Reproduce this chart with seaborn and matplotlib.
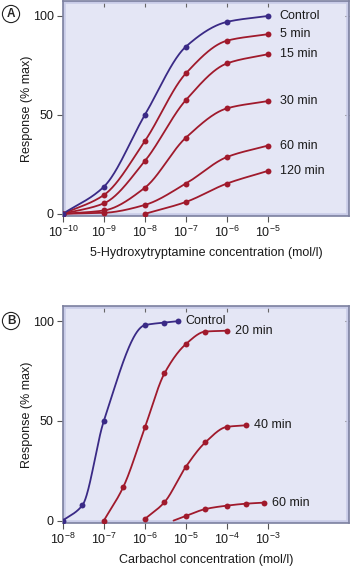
import numpy as np
import pandas as pd
import matplotlib
matplotlib.use("Agg")
import matplotlib.pyplot as plt
import seaborn as sns
from matplotlib.patches import Rectangle

# Panel A: 5-hydroxytryptamine, response (% max) after exposure time
conc_a = [1e-10, 1e-9, 1e-8, 1e-7, 1e-6, 1e-5]
labels_a = ["Control", "5 min", "15 min", "30 min", "60 min", "120 min"]
resp_a_control = [0, 13.7, 50, 84.5, 97, 100]
resp_a_5 = [0, 9.5, 36.8, 71, 87.5, 90.8]
resp_a_15 = [0, 5.3, 26.7, 57.5, 76, 80.7]
resp_a_30 = [0, 1.7, 13.2, 38.5, 53.3, 57]
resp_a_60 = [0, 0.5, 4.5, 15.3, 28.7, 34.5]
resp_a_120 = [np.nan, np.nan, 0, 6, 15.3, 21.7]

# Panel B: carbachol
labels_b = ["Control", "20 min", "40 min", "60 min"]
conc_b_control = [1e-8, 3e-8, 1e-7, 1e-6, 3e-6, 6.5e-6]
resp_b_control = [0, 7.7, 50, 98, 99.3, 100]
conc_b_20 = [1e-7, 3e-7, 1e-6, 3e-6, 1e-5, 3e-5, 1e-4]
resp_b_20 = [0, 17, 46.7, 73.8, 88.5, 94.8, 95.2]
conc_b_40 = [1e-6, 3e-6, 1e-5, 3e-5, 1e-4, 3e-4]
resp_b_40 = [0.8, 9.2, 27, 39.3, 47, 47.8]
conc_b_60 = [5e-6, 1e-5, 3e-5, 1e-4, 3e-4, 8e-4]
resp_b_60 = [0, 2.3, 5.8, 7.5, 8.5, 9]
marked_b_60 = [False, True, True, True, True, True]

BLUE = "#3a2a86"
RED = "#a01a2c"
FACE = "#e4e6f5"

sns.set_style("ticks")
plt.rcParams["font.family"] = ["Liberation Sans", "DejaVu Sans"]
plt.rcParams["mathtext.fontset"] = "custom"
plt.rcParams["mathtext.rm"] = "Liberation Sans"
plt.rcParams["mathtext.it"] = "Liberation Sans:italic"
plt.rcParams["mathtext.bf"] = "Liberation Sans:bold"
FS = 9


def smooth_curve(x, y, n=200):
    # monotone cubic (Fritsch-Carlson) through the points, in log10(x)
    lx = np.log10(np.asarray(x, float))
    y = np.asarray(y, float)
    h = np.diff(lx)
    d = np.diff(y) / h
    m = np.zeros_like(y)
    m[0], m[-1] = d[0], d[-1]
    for i in range(1, len(y) - 1):
        if d[i - 1] * d[i] <= 0:
            m[i] = 0
        else:
            w1 = 2 * h[i] + h[i - 1]
            w2 = h[i] + 2 * h[i - 1]
            m[i] = (w1 + w2) / (w1 / d[i - 1] + w2 / d[i])
    xs = np.linspace(lx[0], lx[-1], n)
    idx = np.clip(np.searchsorted(lx, xs) - 1, 0, len(lx) - 2)
    t = (xs - lx[idx]) / h[idx]
    h00 = 2 * t**3 - 3 * t**2 + 1
    h10 = t**3 - 2 * t**2 + t
    h01 = -2 * t**3 + 3 * t**2
    h11 = t**3 - t**2
    ys = (h00 * y[idx] + h10 * h[idx] * m[idx]
          + h01 * y[idx + 1] + h11 * h[idx] * m[idx + 1])
    return 10**xs, ys


def draw_series(ax, x, y, color, label, offset, marked=None):
    x = np.asarray(x, float)
    y = np.asarray(y, float)
    ok = ~np.isnan(y)
    x, y = x[ok], y[ok]
    cx, cy = smooth_curve(x, y)
    sns.lineplot(x=cx, y=cy, ax=ax, color=color, lw=1.3, sort=False)
    if marked is None:
        mx, my = x, y
    else:
        keep = np.asarray(marked)[ok]
        mx, my = x[keep], y[keep]
    sns.scatterplot(x=mx, y=my, ax=ax, color=color, s=18,
                    edgecolor=color, linewidth=0, zorder=5)
    ax.annotate(label, (x[-1], y[-1]), xytext=(offset, 0),
                textcoords="offset points", va="center", ha="left",
                fontsize=FS, color="#1a1a1a")


def style_axes(ax, lo, hi, labels, xlabel):
    ax.set_xscale("log")
    ax.set_xlim(10.0**lo, 10.0**(hi))
    ax.set_ylim(-1.2, 107.5)
    ax.set_facecolor(FACE)
    dec = list(range(lo, lo + 6))
    ax.set_xticks([10.0**d for d in dec])
    ax.set_xticklabels(labels)
    ax.xaxis.set_minor_locator(matplotlib.ticker.NullLocator())
    ax.set_yticks([0, 50, 100])
    ax.set_yticklabels(["0", "50", "100"])
    ax.tick_params(axis="both", labelsize=FS, length=4.5, width=0.8,
                   color="#555555", pad=2, labelcolor="#1a1a1a")
    for s in ax.spines.values():
        s.set_color("#7c809f")
        s.set_linewidth(1.2)
    ax.add_patch(Rectangle((0, 0), 1, 1, transform=ax.transAxes, fill=False,
                           edgecolor="#c9cce8", lw=4, zorder=1))
    top = ax.secondary_xaxis("top")
    top.set_xscale("log")
    top.set_xticks([10.0**d for d in dec[1:]])
    top.xaxis.set_minor_locator(matplotlib.ticker.NullLocator())
    top.set_xticklabels([])
    top.tick_params(direction="in", length=4, width=0.8, color="#666666")
    top.spines["top"].set_visible(False)
    right = ax.secondary_yaxis("right")
    right.set_yticks([50, 100])
    right.set_yticklabels([])
    right.tick_params(direction="in", length=3, width=0.8, color="#666666")
    right.spines["right"].set_visible(False)
    ax.set_xlabel(xlabel, fontsize=FS, labelpad=5, color="#1a1a1a")
    ax.set_ylabel("Response (% max)", fontsize=FS, labelpad=0,
                  color="#1a1a1a")


fig = plt.figure(figsize=(3.53, 5.66), dpi=100)
ax_a = fig.add_axes([0.178, 0.618, 0.811, 0.380])
ax_b = fig.add_axes([0.178, 0.076, 0.811, 0.383])

# Panel A
series_a = [resp_a_120, resp_a_60, resp_a_30, resp_a_15, resp_a_5]
for resp, lab in zip(series_a, labels_a[::-1][:5]):
    draw_series(ax_a, conc_a, resp, RED, lab, 8.5)
draw_series(ax_a, conc_a, resp_a_control, BLUE, labels_a[0], 8.5)
style_axes(ax_a, -10, -3.02,
           [r"$10^{-%d}$" % k for k in range(10, 4, -1)],
           "5-Hydroxytryptamine concentration (mol/l)")

# Panel B
draw_series(ax_b, conc_b_60, resp_b_60, RED, labels_b[3], 5.5, marked_b_60)
draw_series(ax_b, conc_b_40, resp_b_40, RED, labels_b[2], 5.5)
draw_series(ax_b, conc_b_20, resp_b_20, RED, labels_b[1], 5.5)
draw_series(ax_b, conc_b_control, resp_b_control, BLUE, labels_b[0], 5.5)
style_axes(ax_b, -8, -1.02,
           [r"$10^{-%d}$" % k for k in range(8, 2, -1)],
           "Carbachol concentration (mol/l)")

for lab, y in [("A", 1 - 14 / 566), ("B", 1 - 321 / 566)]:
    fig.text(11 / 353, y, lab, ha="center", va="center", fontsize=FS - 0.5,
             fontweight="bold",
             bbox=dict(boxstyle="circle,pad=0.22", fc="white", ec="#222222",
                       lw=0.8))

fig.savefig("out.png", dpi=100)
